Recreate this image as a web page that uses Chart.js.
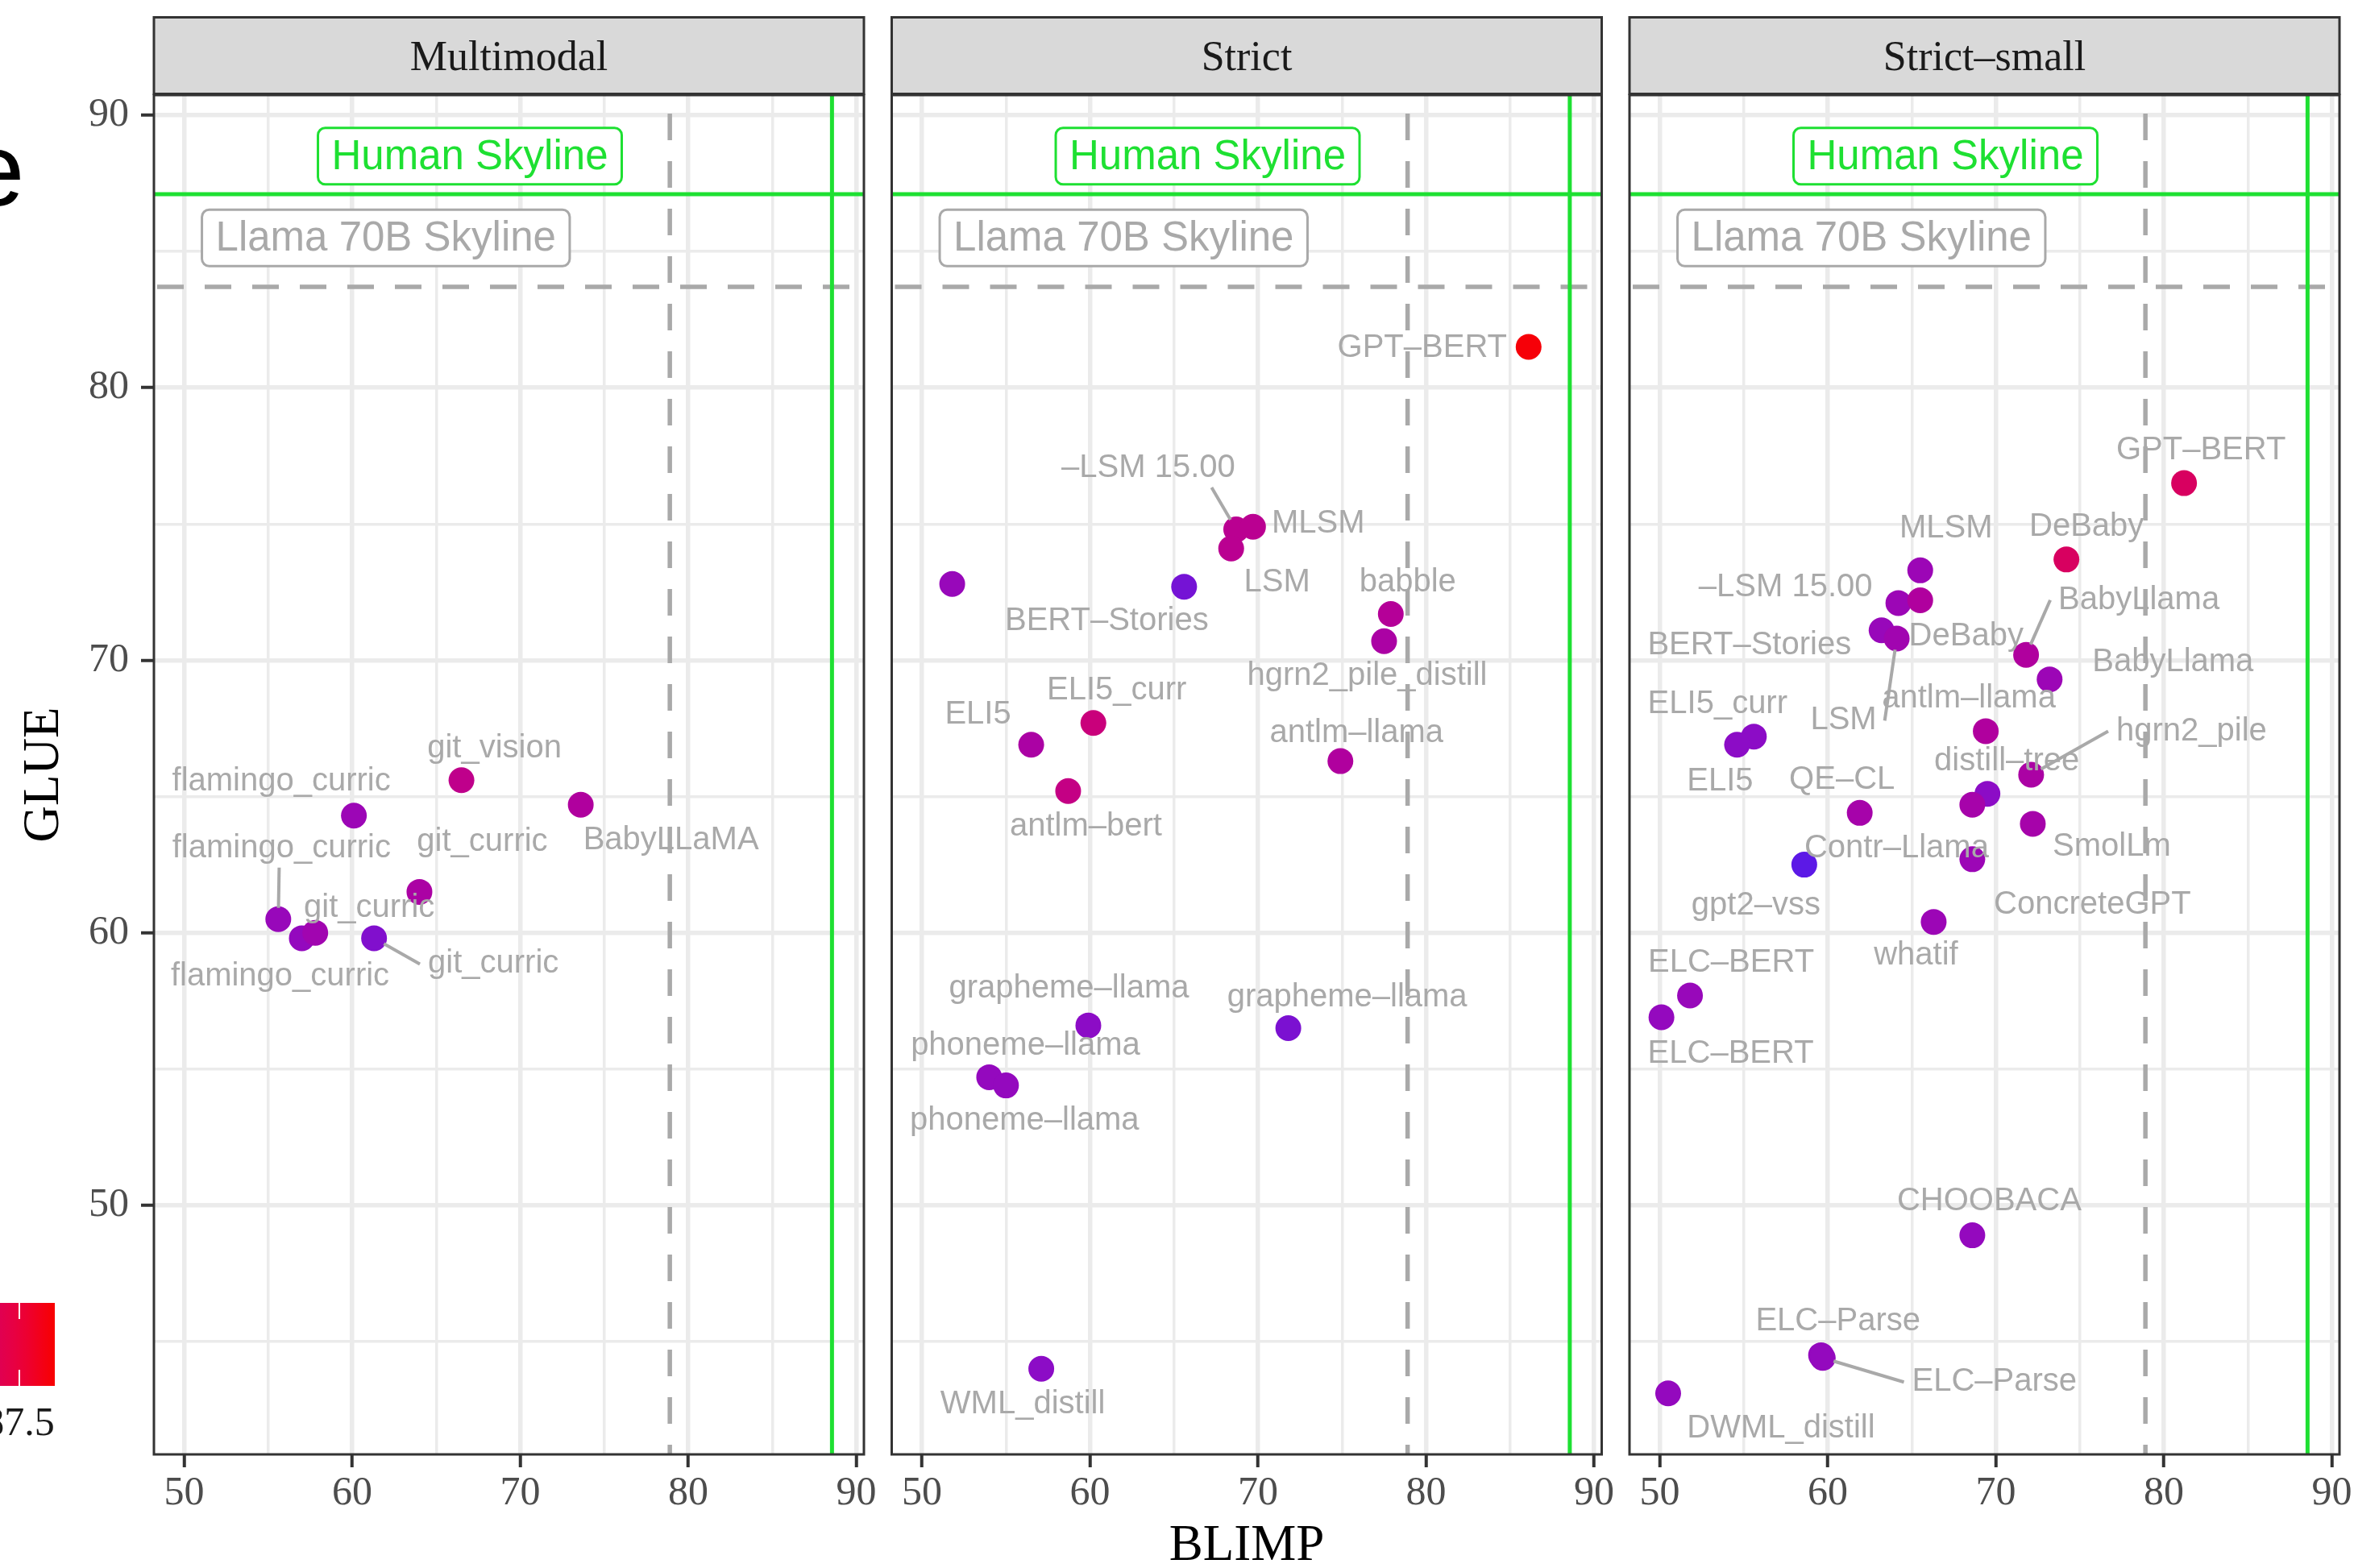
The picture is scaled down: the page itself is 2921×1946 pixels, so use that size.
<!DOCTYPE html>
<html>
<head>
<meta charset="utf-8">
<title>BLIMP vs GLUE by track</title>
<script src="https://cdn.jsdelivr.net/npm/chart.js@4.4.1/dist/chart.umd.min.js"></script>
<style>
  html, body { margin: 0; padding: 0; background: #fff; overflow: hidden; }
  #wrap { position: relative; width: 2921px; height: 1946px; }
  #wrap canvas { position: absolute; left: 0; top: 0; }
</style>
</head>
<body>
<div id="wrap">
  <canvas id="panel0" width="2921" height="1946"></canvas>
  <canvas id="panel1" width="2921" height="1946"></canvas>
  <canvas id="panel2" width="2921" height="1946"></canvas>
</div>
<script>
// ---- data ----
const panelTitles = ['Multimodal', 'Strict', 'Strict–small'];
const blimpTicks = [50, 60, 70, 80, 90];
const glueTicks = [50, 60, 70, 80, 90];

// skylines as [BLIMP, GLUE]
const humanSkyline = [88.55, 87.1];
const llamaSkyline = [78.9, 83.7];
const humanLabelAt = [67, 88.5];
const llamaLabelAt = [62, 85.5];

// Multimodal
const mmNames = ['git_vision', 'BabyLLaMA', 'flamingo_curric', 'git_curric', 'flamingo_curric', 'flamingo_curric', 'git_curric', 'git_curric'];
const mmBlimp = [66.5, 73.6, 60.1, 64.0, 55.6, 57.0, 57.8, 61.3];
const mmGlue  = [65.6, 64.7, 64.3, 61.5, 60.5, 59.8, 60.0, 59.8];
const mmScore = [83.5, 82, 80, 81.5, 79.5, 79, 80.5, 77];

// Strict
const stNames = ['GPT–BERT', '–LSM 15.00', 'MLSM', 'LSM', '', 'BERT–Stories', 'babble', 'hgrn2_pile_distill', 'ELI5_curr', 'ELI5', 'antlm–llama', 'antlm–bert', 'grapheme–llama', 'grapheme–llama', 'phoneme–llama', 'phoneme–llama', 'WML_distill'];
const stBlimp = [86.1, 68.7, 69.7, 68.4, 51.8, 65.6, 77.9, 77.5, 60.2, 56.5, 74.9, 58.7, 59.9, 71.8, 54.0, 55.0, 57.1];
const stGlue  = [81.5, 74.8, 74.9, 74.1, 72.8, 72.7, 71.7, 70.7, 67.7, 66.9, 66.3, 65.2, 56.6, 56.5, 54.7, 54.4, 44.0];
const stScore = [88.8, 83, 83, 83, 79.5, 76, 82.5, 81.5, 84.5, 81.5, 82, 84, 78, 76.5, 79, 79, 78];

// Strict-small
const ssNames = ['GPT–BERT', 'DeBaby', 'MLSM', '–LSM 15.00', 'DeBaby', 'BERT–Stories', 'LSM', 'BabyLlama', 'BabyLlama', 'antlm–llama', 'ELI5_curr', 'ELI5', 'hgrn2_pile', 'distill–tree', 'Contr–Llama', 'QE–CL', 'SmolLm', 'gpt2–vss', 'ConcreteGPT', 'whatif', 'ELC–BERT', 'ELC–BERT', 'CHOOBACA', 'ELC–Parse', 'ELC–Parse', 'DWML_distill'];
const ssBlimp = [81.2, 74.2, 65.5, 64.2, 65.5, 63.2, 64.1, 71.8, 73.2, 69.4, 55.6, 54.6, 72.1, 69.5, 68.6, 61.9, 72.2, 58.6, 68.6, 66.3, 51.8, 50.1, 68.6, 59.6, 59.7, 50.5];
const ssGlue  = [76.5, 73.7, 73.3, 72.1, 72.2, 71.1, 70.8, 70.2, 69.3, 67.4, 67.2, 66.9, 65.8, 65.1, 64.7, 64.4, 64.0, 62.5, 62.7, 60.4, 57.7, 56.9, 48.9, 44.5, 44.4, 43.1];
const ssScore = [86, 86, 80, 80, 82, 79.5, 80.5, 82, 80, 82, 78, 78, 81.5, 78, 81, 81, 81, 73.5, 80, 80, 79.5, 79, 79, 79, 79, 79];

// colour scale for the score
const scoreStops  = [72, 75, 78, 80, 82, 84, 86, 87.5, 89];
const scoreColors = ['#4e1cf0', '#6a16dc', '#8c0cc6', '#9c06b6', '#b0009e', '#c40084', '#d80060', '#ea003e', '#f80000'];
const legendTick = 87.5;

// ---- label placement (pixel nudges from the point, third entry = leader line) ----
const mmNudge = [[41, -39], [112, 44], [-90, -42], [78, -62], [4, -88, 1], [-27, 48], [67, -31], [148, 32, 1]];
const stNudge = [[-132, 1], [-109, -76, 1], [81, -4], [57, 42], null, [-96, 43], [21, -39], [-21, 43], [29, -40], [-66, -37], [20, -35], [22, 44], [-24, -46], [73, -38], [45, -39], [23, 44], [-23, 44]];
const ssNudge = [[21, -41], [25, -40], [32, -52], [-140, -19], [57, 45], [-164, 19], [-66, 102, 1], [140, -68, 1], [153, -21], [-21, -40], [-45, -40], [-21, 46], [199, -54, 1], [24, -40], [-94, 54], [-22, -41], [98, 29], [-60, 51], [149, 57], [-22, 42], [51, -40], [86, 45], [21, -42], [21, -42], [213, 30, 1], [140, 44]];

// ---- layout / style ----
const W = 2921, H = 1946;
const PANEL_W = 881, PANEL_TOP = 118, PANEL_BOTTOM = 1805;
const panelLefts = [191, 1106.5, 2022];
const STRIP_TOP = 21.5, STRIP_H = 95;
const X_RANGE = [48.2, 90.45], Y_RANGE = [40.86, 90.74];
const SERIF = '"Liberation Serif", "Times New Roman", serif';
const SANS = '"Liberation Sans", Arial, Helvetica, sans-serif';
const GREY = '#a9a9a9';
const GREEN = '#1ee032';
const DARK = '#333333';

function hexRgb(h) { return [1, 3, 5].map(k => parseInt(h.slice(k, k + 2), 16)); }
function scoreColor(v) {
  if (v <= scoreStops[0]) return scoreColors[0];
  for (let k = 1; k < scoreStops.length; k++) {
    if (v <= scoreStops[k]) {
      const t = (v - scoreStops[k - 1]) / (scoreStops[k] - scoreStops[k - 1]);
      const a = hexRgb(scoreColors[k - 1]), b = hexRgb(scoreColors[k]);
      return 'rgb(' + a.map((c, j) => Math.round(c + (b[j] - c) * t)).join(',') + ')';
    }
  }
  return scoreColors[scoreColors.length - 1];
}

const isMajor = c => c.tick && c.tick.value % 10 === 0;

function line(ctx, x1, y1, x2, y2) {
  ctx.beginPath(); ctx.moveTo(x1, y1); ctx.lineTo(x2, y2); ctx.stroke();
}

function skylineBox(ctx, text, cx, cy, color) {
  ctx.font = `51px ${SANS}`;
  const w = ctx.measureText(text).width + 34, h = 70;
  ctx.beginPath();
  ctx.roundRect(cx - w / 2, cy - h / 2, w, h, 9);
  ctx.fillStyle = '#fff'; ctx.fill();
  ctx.lineWidth = 3; ctx.strokeStyle = color; ctx.stroke();
  ctx.fillStyle = color;
  ctx.textAlign = 'center'; ctx.textBaseline = 'middle';
  ctx.fillText(text, cx, cy + 2);
}

// strip, point labels, skylines and the panel frame
function facetPlugin(panel) {
  return {
    id: 'facet' + panel.index,
    afterDatasetsDraw(chart) {
      const { ctx, chartArea: a, scales: { x, y } } = chart;
      const pts = chart.getDatasetMeta(0).data;
      ctx.save();
      ctx.beginPath(); ctx.rect(a.left, a.top, a.right - a.left, a.bottom - a.top); ctx.clip();

      // repelled text labels
      ctx.font = `40px ${SANS}`;
      ctx.textAlign = 'center'; ctx.textBaseline = 'middle';
      ctx.strokeStyle = GREY; ctx.lineWidth = 4;
      const placed = [];
      panel.names.forEach((name, i) => {
        const n = panel.nudges[i];
        if (!n || !name) return;
        placed.push({ name, px: pts[i].x, py: pts[i].y, lx: pts[i].x + n[0], ly: pts[i].y + n[1], leader: n[2] });
      });
      placed.filter(p => p.leader).forEach(p => {
        const w = ctx.measureText(p.name).width;
        const bx0 = p.lx - w / 2 - 10, bx1 = p.lx + w / 2 + 10;
        let ex, ey;
        if (p.px < bx0) { ex = bx0; ey = p.ly; }
        else if (p.px > bx1) { ex = bx1; ey = p.ly; }
        else { ex = p.px + (p.lx - p.px) * 0.28; ey = p.py < p.ly ? p.ly - 24 : p.ly + 24; }
        const d = Math.hypot(ex - p.px, ey - p.py);
        const sx = p.px + (ex - p.px) / d * 14, sy = p.py + (ey - p.py) / d * 14;
        line(ctx, sx, sy, ex, ey);
      });
      ctx.fillStyle = GREY;
      placed.forEach(p => ctx.fillText(p.name, p.lx, p.ly));

      // skyline reference lines
      const hx = x.getPixelForValue(humanSkyline[0]), hy = y.getPixelForValue(humanSkyline[1]);
      const lx = x.getPixelForValue(llamaSkyline[0]), ly = y.getPixelForValue(llamaSkyline[1]);
      ctx.lineWidth = 5.5; ctx.lineCap = 'butt';
      ctx.strokeStyle = GREY; ctx.setLineDash([33, 26]);
      ctx.lineDashOffset = 0; line(ctx, a.left + 4, ly, a.right, ly);
      ctx.lineDashOffset = 21; line(ctx, lx, a.bottom, lx, a.top);
      ctx.setLineDash([]);
      ctx.strokeStyle = GREEN; ctx.lineWidth = 5;
      line(ctx, a.left, hy, a.right, hy);
      line(ctx, hx, a.bottom, hx, a.top);

      skylineBox(ctx, 'Human Skyline', x.getPixelForValue(humanLabelAt[0]), y.getPixelForValue(humanLabelAt[1]), GREEN);
      skylineBox(ctx, 'Llama 70B Skyline', x.getPixelForValue(llamaLabelAt[0]), y.getPixelForValue(llamaLabelAt[1]), GREY);
      ctx.restore();

      // frame and facet strip
      ctx.save();
      ctx.lineWidth = 3; ctx.strokeStyle = DARK;
      ctx.strokeRect(a.left, a.top, a.right - a.left, a.bottom - a.top);
      ctx.fillStyle = '#d9d9d9';
      ctx.fillRect(a.left, STRIP_TOP, a.right - a.left, STRIP_H);
      ctx.strokeRect(a.left, STRIP_TOP, a.right - a.left, STRIP_H);
      ctx.fillStyle = '#1a1a1a';
      ctx.font = `52px ${SERIF}`;
      ctx.textAlign = 'center'; ctx.textBaseline = 'middle';
      ctx.fillText(panel.title, (a.left + a.right) / 2, STRIP_TOP + STRIP_H / 2 + 4);

      if (panel.index === 0) {
        // legend pieces sitting at the left margin
        ctx.fillStyle = '#000';
        ctx.font = `128px ${SANS}`;
        ctx.textAlign = 'right'; ctx.textBaseline = 'alphabetic';
        ctx.fillText('e', 30.5, 255);

        const barX1 = 68, barTop = 1617, barH = 103, tickX = 24;
        const valueAt = px => legendTick + (px - tickX) * (1.5 / 43.7);
        const grad = ctx.createLinearGradient(0, 0, barX1, 0);
        for (let s = 0; s <= 4; s++) grad.addColorStop(s / 4, scoreColor(valueAt(barX1 * s / 4)));
        ctx.fillStyle = grad;
        ctx.fillRect(0, barTop, barX1, barH);
        ctx.strokeStyle = '#fff'; ctx.lineWidth = 2;
        line(ctx, tickX, barTop, tickX, barTop + 20);
        line(ctx, tickX, barTop + barH - 20, tickX, barTop + barH);
        ctx.fillStyle = '#1a1a1a';
        ctx.font = `50px ${SERIF}`;
        ctx.textAlign = 'center'; ctx.textBaseline = 'middle';
        ctx.fillText(String(legendTick), tickX, 1768);
      }
      ctx.restore();
    }
  };
}

function makePanel(index, names, blimp, glue, score, nudges) {
  const tickFont = { family: SERIF, size: 50 };
  const grid = showTicks => ({
    color: '#ebebeb',
    lineWidth: c => isMajor(c) ? 5.5 : 3.5,
    drawTicks: showTicks,
    tickLength: 16,
    tickWidth: 4,
    tickColor: c => isMajor(c) ? DARK : 'rgba(0,0,0,0)'
  });
  const left = index === 0 ? 0 : panelLefts[index];
  return new Chart(document.getElementById('panel' + index), {
    type: 'scatter',
    data: {
      datasets: [{
        data: blimp.map((b, i) => ({ x: b, y: glue[i] })),
        pointRadius: 16,
        pointHoverRadius: 16,
        pointBorderWidth: 0,
        pointBackgroundColor: score.map(scoreColor)
      }]
    },
    options: {
      responsive: false,
      maintainAspectRatio: false,
      devicePixelRatio: 1,
      animation: false,
      events: [],
      layout: {
        autoPadding: false,
        padding: { left: left, right: W - panelLefts[index] - PANEL_W, top: PANEL_TOP, bottom: 0 }
      },
      plugins: { legend: { display: false }, tooltip: { enabled: false }, title: { display: false } },
      scales: {
        x: {
          type: 'linear', min: X_RANGE[0], max: X_RANGE[1],
          ticks: {
            stepSize: 5, includeBounds: false, autoSkip: false, maxRotation: 0, minRotation: 0,
            padding: 3, color: '#4d4d4d', font: tickFont,
            callback: v => blimpTicks.includes(v) ? String(v) : ''
          },
          grid: grid(true),
          border: { display: false },
          title: {
            display: index === 1, text: 'BLIMP', color: '#000', padding: 0,
            font: { family: SERIF, size: 63, lineHeight: 0.85 }
          },
          afterFit: s => { s.height = H - PANEL_BOTTOM; s.paddingLeft = 0; s.paddingRight = 0; }
        },
        y: {
          type: 'linear', min: Y_RANGE[0], max: Y_RANGE[1],
          ticks: {
            display: index === 0, stepSize: 5, includeBounds: false, autoSkip: false,
            padding: 15, color: '#4d4d4d', font: tickFont,
            callback: v => glueTicks.includes(v) ? String(v) : ''
          },
          grid: grid(index === 0),
          border: { display: false },
          title: {
            display: index === 0, text: 'GLUE', color: '#000', padding: { top: 18 },
            font: { family: SERIF, size: 63 }
          },
          afterFit: s => { s.width = index === 0 ? panelLefts[0] : 0; s.paddingTop = 0; s.paddingBottom = 0; }
        }
      }
    },
    plugins: [facetPlugin({ index, title: panelTitles[index], names, nudges })]
  });
}

makePanel(0, mmNames, mmBlimp, mmGlue, mmScore, mmNudge);
makePanel(1, stNames, stBlimp, stGlue, stScore, stNudge);
makePanel(2, ssNames, ssBlimp, ssGlue, ssScore, ssNudge);
</script>
</body>
</html>
